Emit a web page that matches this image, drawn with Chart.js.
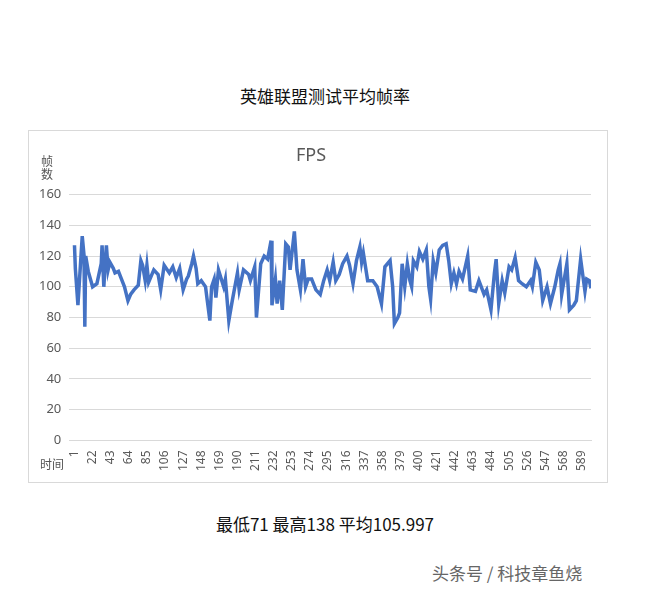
<!DOCTYPE html>
<html lang="zh-CN">
<head>
  <meta charset="UTF-8">
  <title>英雄联盟测试平均帧率</title>
  <script src="https://cdn.jsdelivr.net/npm/chart.js"></script>
  <style>
    body {
      margin: 0;
      background: #fff;
      font-family: "Noto Sans CJK SC", "Noto Sans", sans-serif;
      width: 650px;
      height: 591px;
      position: relative;
      overflow: hidden;
    }
    .txt { position: absolute; color: #111; }
    #card {
      position: absolute;
      left: 28px; top: 130px;
      width: 580px; height: 353px;
      border: 1px solid #d9d9d9;
      box-sizing: border-box;
    }
  </style>
</head>
<body>
  <div class="txt" style="left:0;width:650px;text-align:center;top:83px;font-size:17px;">英雄联盟测试平均帧率</div>
  <div id="card">
    <canvas id="fps" width="578" height="351"></canvas>
  </div>
  <div class="txt" style="left:41px;top:154px;font-size:12px;line-height:13px;color:#555;">帧<br>数</div>
  <div class="txt" style="left:40px;top:455px;font-size:12px;color:#555;">时间</div>
  <div class="txt" style="left:0;width:650px;text-align:center;top:511px;font-size:17px;">最低71 最高138 平均105.997</div>
  <div class="txt" style="left:432px;top:560px;font-size:17px;color:#666;">头条号 / 科技章鱼烧</div>

  <script>
    // 帧号 与 帧率
    const frames = [1, 2, 5, 10, 12, 13, 14, 17, 22, 27, 32, 33, 35, 38, 40, 42, 46, 48, 52, 59, 63, 66, 70, 75, 78, 80,
      83, 85, 87, 93, 98, 101, 105, 111, 115, 119, 123, 127, 131, 133, 137, 139, 142, 144, 148, 153, 155, 158, 160, 163,
      165, 168, 174, 176, 180, 184, 186, 190, 192, 197, 203, 205, 210, 212, 217, 221, 225, 229, 230, 234, 236, 239, 242,
      246, 249, 251, 256, 259, 263, 266, 269, 272, 276, 281, 286, 290, 294, 297, 301, 304, 308, 312, 317, 320, 324, 328,
      332, 334, 336, 341, 347, 352, 357, 361, 367, 370, 372, 376, 378, 381, 384, 387, 390, 392, 394, 398, 401, 405, 409,
      412, 414, 417, 420, 424, 428, 432, 435, 438, 441, 444, 447, 451, 457, 460, 466, 470, 476, 479, 484, 488, 490, 493,
      497, 500, 505, 508, 512, 516, 520, 525, 530, 532, 536, 540, 544, 549, 553, 558, 562, 564, 566, 572, 575, 580, 583,
      588, 593, 595, 598, 600];
    const fps = [127, 112, 88, 133, 121, 74, 120, 110, 100, 102, 115, 127, 100, 127, 111, 116, 112, 109, 110, 100, 91, 95,
      98, 101, 117, 114, 104, 114, 103, 111, 108, 98, 114, 109, 113, 106, 112, 98, 105, 107, 115, 120, 112, 102, 104, 100,
      91, 78, 100, 105, 93, 111, 100, 105, 78, 91, 97, 109, 98, 111, 108, 104, 113, 80, 115, 120, 118, 130, 88, 105, 89,
      104, 85, 128, 126, 111, 136, 111, 98, 118, 100, 105, 105, 98, 95, 104, 111, 104, 116, 104, 108, 115, 120, 114, 102,
      117, 126, 116, 122, 104, 104, 100, 89, 113, 117, 100, 76, 80, 83, 115, 100, 115, 104, 100, 117, 113, 123, 118, 124,
      100, 92, 117, 109, 124, 127, 128, 117, 102, 109, 102, 110, 105, 120, 98, 97, 104, 95, 98, 85, 109, 118, 89, 104, 96,
      113, 111, 119, 104, 102, 100, 104, 100, 116, 111, 91, 100, 89, 100, 111, 115, 95, 115, 85, 88, 91, 118, 97, 105, 104,
      99];
    const xTicks = [1, 22, 43, 64, 85, 106, 127, 148, 169, 190, 211, 232, 253, 274, 295, 316, 337, 358, 379, 400, 421,
      442, 463, 484, 505, 526, 547, 568, 589];

    const gray = '#595959';
    new Chart(document.getElementById('fps'), {
      type: 'line',
      data: {
        datasets: [{
          data: frames.map((f, i) => ({ x: f, y: fps[i] })),
          borderColor: '#4472C4',
          borderWidth: 3.5,
          pointRadius: 0,
          tension: 0
        }]
      },
      options: {
        responsive: false,
        animation: false,
        layout: { padding: { left: 2, right: 16, top: 6, bottom: 9 } },
        plugins: {
          legend: { display: false },
          tooltip: { enabled: false },
          title: {
            display: true,
            text: 'FPS',
            color: gray,
            font: { size: 18, family: 'Noto Sans', weight: 'normal' },
            padding: { top: 8, bottom: 28 }
          }
        },
        scales: {
          x: {
            type: 'linear',
            min: -5,
            max: 600,
            afterBuildTicks: axis => { axis.ticks = xTicks.map(v => ({ value: v })); },
            ticks: {
              color: gray,
              font: { size: 12, family: 'Noto Sans' },
              minRotation: 90,
              maxRotation: 90,
              autoSkip: false,
              padding: 2
            },
            grid: { display: false },
            border: { color: '#d9d9d9' }
          },
          y: {
            min: 0,
            max: 160,
            ticks: {
              stepSize: 20,
              color: gray,
              font: { size: 13, family: 'Noto Sans' },
              padding: 8
            },
            grid: { color: '#d9d9d9', drawTicks: false },
            border: { display: false }
          }
        }
      }
    });
  </script>
</body>
</html>
